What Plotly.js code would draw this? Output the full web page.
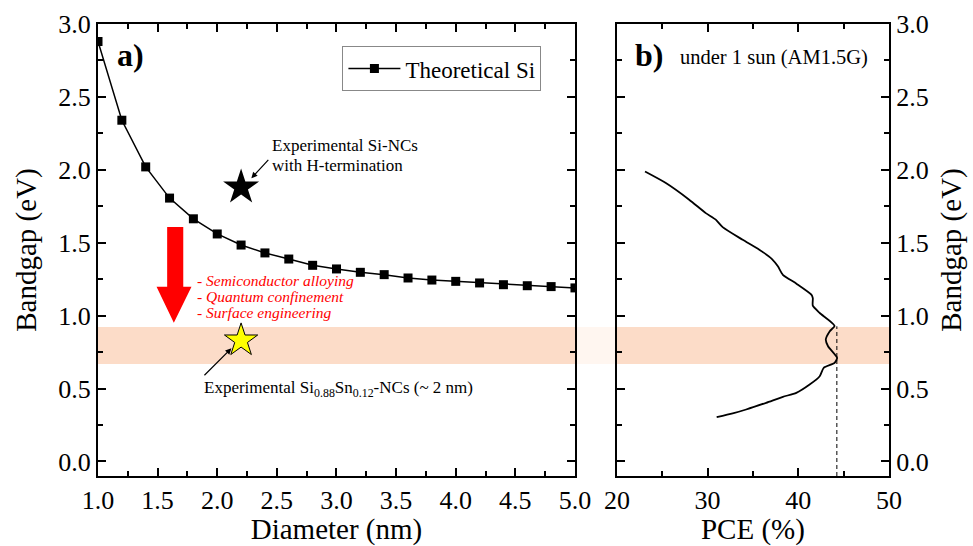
<!DOCTYPE html>
<html><head><meta charset="utf-8">
<script src="https://cdn.plot.ly/plotly-3.0.1.min.js"></script>
<style>body{margin:0;background:#fff}#chart{width:973px;height:546px}</style>
</head><body><div id="chart"></div>
<script>
// Theoretical Si bandgap vs diameter
var diameter = [1.0,1.2,1.4,1.6,1.8,2.0,2.2,2.4,2.6,2.8,3.0,3.2,3.4,3.6,3.8,4.0,4.2,4.4,4.6,4.8,5.0];
var bandgapTheory = [2.88,2.34,2.02,1.806,1.664,1.56,1.484,1.43,1.388,1.345,1.32,1.297,1.281,1.258,1.244,1.235,1.224,1.212,1.205,1.199,1.19];
// Experimental points
var expHx = [2.2], expHy = [1.88];
var expSnx = [2.2], expSny = [0.83];
// PCE vs bandgap (under 1 sun)
var pce = [23.1,25.4,27.97,29.8,30.9,31.66,33.87,35.7,37.1,37.75,38.3,39.8,41.44,41.6,41.6,42.36,44.0,43.47,43.03,43.28,44.28,44.0,42.8,42.36,41.25,39.78,38.3,36.46,34.25,32.77,31.0];
var pceGap = [1.988,1.909,1.795,1.703,1.658,1.607,1.52,1.452,1.388,1.338,1.28,1.219,1.144,1.12,1.068,1.018,0.93,0.893,0.836,0.79,0.71,0.676,0.642,0.584,0.527,0.47,0.443,0.402,0.356,0.329,0.303];
var pceMaxX = [44.25,44.25], pceMaxY = [-0.1,0.927];
var band = [0.668, 0.922];

var F = "Liberation Serif, Times New Roman, serif";
var traces = [
 {x:diameter, y:bandgapTheory, mode:'lines+markers', name:'Theoretical Si',
  line:{color:'#000',width:1.5}, marker:{symbol:'square',size:9,color:'#000'}, xaxis:'x', yaxis:'y'},
 {x:expHx, y:expHy, mode:'markers', showlegend:false,
  marker:{symbol:'star',size:27,color:'#000',line:{width:0}}, xaxis:'x', yaxis:'y'},
 {x:expSnx, y:expSny, mode:'markers', showlegend:false,
  marker:{symbol:'star',size:25,color:'#ffff00',line:{width:1,color:'#000'}}, xaxis:'x', yaxis:'y'},
 {x:pce, y:pceGap, mode:'lines', showlegend:false, line:{color:'#000',width:1.8,shape:'spline',smoothing:0.6}, xaxis:'x2', yaxis:'y2'},
 {x:pceMaxX, y:pceMaxY, mode:'lines', showlegend:false, line:{color:'#000',width:1,dash:'4px,3px'}, xaxis:'x2', yaxis:'y2'}
];

var axCommon = {showline:true, linewidth:2, linecolor:'#000', mirror:'allticks', ticks:'inside',
  ticklen:8, tickwidth:2, tickcolor:'#000', showgrid:false, zeroline:false,
  tickfont:{family:F,size:26,color:'#000'}};
function ax(extra){ return Object.assign({}, axCommon, extra); }

var layout = {
 width:973, height:546, margin:{l:98,r:84,t:24,b:70},
 paper_bgcolor:'#fff', plot_bgcolor:'rgba(0,0,0,0)',
 font:{family:F,color:'#000'},
 xaxis: ax({domain:[0,0.603], range:[1,5], dtick:0.5, tick0:1, tickformat:'.1f', anchor:'y',
   minor:{dtick:0.25, ticks:'inside', ticklen:5, tickwidth:2, tickcolor:'#000'},
   title:{text:'Diameter (nm)', font:{family:F,size:29,color:'#000'}, standoff:5}}),
 yaxis: ax({range:[-0.1,3.0], dtick:0.5, tick0:0, tickformat:'.1f', anchor:'x',
   minor:{dtick:0.25, ticks:'inside', ticklen:5, tickwidth:2, tickcolor:'#000'},
   title:{text:'Bandgap (eV)', font:{family:F,size:29,color:'#000'}, standoff:13}}),
 xaxis2: ax({domain:[0.656,1], range:[20,50], dtick:10, tick0:20, anchor:'y2',
   minor:{dtick:5, ticks:'inside', ticklen:5, tickwidth:2, tickcolor:'#000'},
   title:{text:'PCE (%)', font:{family:F,size:29,color:'#000'}, standoff:8}}),
 yaxis2: ax({range:[-0.1,3.0], dtick:0.5, tick0:0, tickformat:'.1f', anchor:'x2', side:'right',
   minor:{dtick:0.25, ticks:'inside', ticklen:5, tickwidth:2, tickcolor:'#000'},
   title:{text:'Bandgap (eV)', font:{family:F,size:29,color:'#000'}, standoff:13}}),
 showlegend:true,
 legend:{x:0.309, y:0.951, xanchor:'left', yanchor:'top', bgcolor:'#fff', bordercolor:'#888', borderwidth:1,
   itemwidth:52, font:{family:F,size:23,color:'#000'}},
 shapes:[
  {type:'rect', xref:'paper', yref:'y', x0:0, x1:1, y0:band[0], y1:band[1], fillcolor:'#fcdcc8', line:{width:0}, layer:'below'},
  {type:'rect', xref:'paper', yref:'y', x0:0.603, x1:0.656, y0:band[0], y1:band[1], fillcolor:'#fff6f0', line:{width:0}, layer:'below'},
  {type:'path', xref:'x', yref:'y', layer:'above', fillcolor:'#ff0000', line:{width:0},
   path:'M1.58,1.608 L1.715,1.608 L1.715,1.198 L1.784,1.198 L1.636,0.951 L1.491,1.198 L1.58,1.198 Z'}
 ],
 annotations:[
  {xref:'paper', yref:'paper', x:0.022, y:0.932, xanchor:'left', yanchor:'middle', showarrow:false,
   text:'<b>a)</b>', font:{family:F,size:32,color:'#000'}},
  {xref:'paper', yref:'paper', x:0.676, y:0.932, xanchor:'left', yanchor:'middle', showarrow:false,
   text:'<b>b)</b>', font:{family:F,size:32,color:'#000'}},
  {xref:'paper', yref:'paper', x:0.733, y:0.925, xanchor:'left', yanchor:'middle', showarrow:false,
   text:'under 1 sun (AM1.5G)', font:{family:F,size:20.5,color:'#000'}},
  {xref:'x', yref:'y', x:2.44, y:2.165, xanchor:'left', yanchor:'middle', showarrow:false, align:'left',
   text:'Experimental Si-NCs', font:{family:F,size:17,color:'#000'}},
  {xref:'x', yref:'y', x:2.44, y:2.028, xanchor:'left', yanchor:'middle', showarrow:false, align:'left',
   text:'with H-termination', font:{family:F,size:17,color:'#000'}},
  {xref:'x', yref:'y', x:2.286, y:1.942, axref:'x', ayref:'y', ax:2.44, ay:2.079, text:'', showarrow:true,
   arrowhead:2, arrowsize:1, arrowwidth:1.2, arrowcolor:'#000'},
  {xref:'x', yref:'y', x:2.119, y:0.776, axref:'x', ayref:'y', ax:1.88, ay:0.581, text:'', showarrow:true,
   arrowhead:2, arrowsize:1, arrowwidth:1.2, arrowcolor:'#000'},
  {xref:'x', yref:'y', x:1.868, y:0.5, xanchor:'left', yanchor:'middle', showarrow:false,
   text:'Experimental Si<sub>0.88</sub>Sn<sub>0.12</sub>-NCs (~ 2 nm)', font:{family:F,size:17,color:'#000'}},
  {xref:'x', yref:'y', x:1.812, y:1.24, xanchor:'left', yanchor:'middle', showarrow:false,
   text:'<i>- Semiconductor alloying</i>', font:{family:F,size:15.5,color:'#ff0000'}},
  {xref:'x', yref:'y', x:1.812, y:1.13, xanchor:'left', yanchor:'middle', showarrow:false,
   text:'<i>- Quantum confinement</i>', font:{family:F,size:15.5,color:'#ff0000'}},
  {xref:'x', yref:'y', x:1.812, y:1.022, xanchor:'left', yanchor:'middle', showarrow:false,
   text:'<i>- Surface engineering</i>', font:{family:F,size:15.5,color:'#ff0000'}}
 ]
};
Plotly.newPlot('chart', traces, layout, {displayModeBar:false, staticPlot:true});
</script></body></html>
